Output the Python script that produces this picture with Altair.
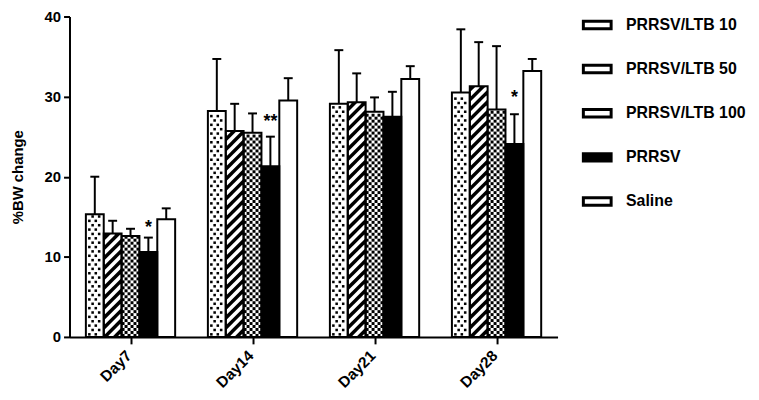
import altair as alt
import pandas as pd

# ---------------- data ----------------
days = ["Day7", "Day14", "Day21", "Day28"]
groups = ["PRRSV/LTB 10", "PRRSV/LTB 50", "PRRSV/LTB 100", "PRRSV", "Saline"]

mean_ltb10 = [15.3, 28.2, 29.1, 30.5]
mean_ltb50 = [12.9, 25.7, 29.3, 31.3]
mean_ltb100 = [12.6, 25.5, 28.1, 28.4]
mean_prrsv = [10.6, 21.3, 27.5, 24.1]
mean_saline = [14.7, 29.5, 32.2, 33.2]

sd_ltb10 = [4.7, 6.5, 6.7, 7.9]
sd_ltb50 = [1.6, 3.4, 3.6, 5.5]
sd_ltb100 = [0.9, 2.4, 1.8, 7.9]
sd_prrsv = [1.8, 3.7, 3.1, 3.7]
sd_saline = [1.35, 2.8, 1.6, 1.5]

sig_day = [0, 1, 3]          # index into days
sig_label = ["*", "**", "*"]
sig_y = [14.2, 27.5, 30.4]

group_fill = ["white", "black", "white", "black", "white"]
legend_fill = ["white", "white", "white", "black", "white"]

means = [mean_ltb10, mean_ltb50, mean_ltb100, mean_prrsv, mean_saline]
sds = [sd_ltb10, sd_ltb50, sd_ltb100, sd_prrsv, sd_saline]

# ---------------- layout ----------------
W, H = 492, 323
PPX = W / 4.0          # pixels per day unit
PPY = H / 40.0         # pixels per %BW unit
BW = 18.0 / PPX        # bar width in day units

rows = []
for g, name in enumerate(groups):
    for d, day in enumerate(days):
        xc = d + (g - 2) * BW
        m = means[g][d]
        rows.append(dict(day=day, group=name, gi=g, mean=m, top=m + sds[g][d],
                         xc=xc, x0=xc - BW / 2, x1=xc + BW / 2, zero=0.0))
bars = pd.DataFrame(rows)

# ---- texture marks (derived from bar values) ----
dots = []
for d, v in enumerate(mean_ltb10):
    xc = d + (0 - 2) * BW
    hp = v * PPY
    y, r = 2.6, 0
    while y < hp - 1.8:
        offs = [-5.5, 1.0] if r % 2 == 0 else [-2.2, 4.4]
        for o in offs:
            dots.append(dict(x=xc + o / PPX, y=y / PPY))
        y += 4.4
        r += 1
dots = pd.DataFrame(dots)

stripes = []
wpx = BW * PPX
for d, v in enumerate(mean_ltb50):
    left = d + (1 - 2) * BW - BW / 2
    hp = v * PPY
    c = -wpx + 2.0
    while c < hp:
        xs = max(0.0, -c)
        xe = min(wpx, hp - c)
        if xe - xs > 0.3:
            stripes.append(dict(sx=left + xs / PPX, sy=(xs + c) / PPY,
                                ex=left + xe / PPX, ey=(xe + c) / PPY))
        c += 10.0
stripes = pd.DataFrame(stripes)

checks = []
ncol = 6
cell = wpx / ncol
for d, v in enumerate(mean_ltb100):
    left = d + (2 - 2) * BW - BW / 2
    hp = v * PPY
    i = 0
    while (i + 1) * cell <= hp + 0.5:
        for j in range(ncol):
            if (i + j) % 2 == 0:
                checks.append(dict(x=left + (j + 0.5) * cell / PPX,
                                   y=(i + 0.5) * cell / PPY))
        i += 1
checks = pd.DataFrame(checks)

stars = pd.DataFrame(dict(
    x=[d + (3 - 2) * BW for d in sig_day], y=sig_y, label=sig_label))

FONT = "Liberation Sans"

xscale = alt.Scale(domain=[-0.5, 3.5], nice=False, zero=False)
yscale = alt.Scale(domain=[0, 40], nice=False, zero=True)

label_expr = "['Day7','Day14','Day21','Day28'][datum.value]"

x_axis = alt.Axis(values=[0, 1, 2, 3], labelExpr=label_expr, title=None,
                  grid=False, labelAngle=-45, labelAlign="right",
                  labelBaseline="middle", labelFontSize=15.5,
                  labelFontWeight="bold",
                  labelColor="black", tickSize=7, tickWidth=2, tickColor="black",
                  domainColor="black", domainWidth=2, labelPadding=9,
                  labelOffset=-2, labelFont=FONT)
y_axis = alt.Axis(values=[0, 10, 20, 30, 40], title="%BW change", grid=False,
                  labelFontSize=15, labelFontWeight="bold", labelColor="black",
                  tickSize=6, tickWidth=2, tickColor="black", domainColor="black",
                  domainWidth=2, labelPadding=3, titleFontSize=15,
                  titleFontWeight="bold", titleColor="black", titlePadding=19,
                  labelFont=FONT, titleFont=FONT)


def X(field):
    return alt.X(field, scale=xscale, axis=x_axis, title=None)


def Y(field):
    return alt.Y(field, scale=yscale, axis=y_axis, title="%BW change")


base_fill = alt.Chart(bars).mark_rect(strokeWidth=0).encode(
    x=X("x0:Q"), x2="x1:Q", y=Y("zero:Q"), y2="mean:Q",
    fill=alt.Fill("group:N", scale=alt.Scale(domain=groups, range=group_fill),
                  legend=None),
)

dot_layer = alt.Chart(dots).mark_square(size=6.5, color="black", opacity=1).encode(
    x=X("x:Q"), y=Y("y:Q"))

stripe_layer = alt.Chart(stripes).mark_rule(color="white", strokeWidth=3.6).encode(
    x=X("sx:Q"), y=Y("sy:Q"), x2="ex:Q", y2="ey:Q")

check_layer = alt.Chart(checks).mark_square(size=cell * cell, color="black",
                                            opacity=1).encode(
    x=X("x:Q"), y=Y("y:Q"))

outline = alt.Chart(bars).mark_rect(fillOpacity=0, stroke="black",
                                    strokeWidth=2).encode(
    x=X("x0:Q"), x2="x1:Q", y=Y("zero:Q"), y2="mean:Q")

err = alt.Chart(bars).mark_rule(color="black", strokeWidth=2).encode(
    x=X("xc:Q"), y=Y("mean:Q"), y2="top:Q")

cap = alt.Chart(bars).mark_tick(orient="horizontal", size=9, thickness=2,
                                color="black", opacity=1).encode(
    x=X("xc:Q"), y=Y("top:Q"))

star_layer = alt.Chart(stars).mark_text(fontSize=18, fontWeight="bold",
                                        color="black", baseline="alphabetic",
                                        dy=10, font=FONT).encode(
    x=X("x:Q"), y=Y("y:Q"), text="label:N")

main = alt.layer(base_fill, dot_layer, stripe_layer, check_layer, outline,
                 err, cap, star_layer).properties(width=W, height=H)

# ---------------- legend panel ----------------
leg = pd.DataFrame(dict(group=groups, idx=list(range(len(groups))),
                        fill=legend_fill))
leg["y0"] = leg["idx"] - 0.085
leg["y1"] = leg["idx"] + 0.085
lscale = alt.Scale(domain=[0, 4], range=[8.5, 186.5])

leg_rect = alt.Chart(leg).mark_rect(stroke="black", strokeWidth=3).encode(
    x=alt.value(4), x2=alt.value(32),
    y=alt.Y("y0:Q", scale=lscale, axis=None), y2="y1:Q",
    fill=alt.Fill("fill:N", scale=None),
)
leg_text = alt.Chart(leg).mark_text(align="left", baseline="middle",
                                    fontSize=16, fontWeight="bold",
                                    color="black", font=FONT).encode(
    x=alt.value(47), y=alt.Y("idx:Q", scale=lscale, axis=None), text="group:N")

legend = alt.layer(leg_rect, leg_text).properties(width=140, height=H)

chart = alt.hconcat(main, legend, spacing=22, bounds="flush").properties(
    padding={"left": 2, "top": 0, "right": 5, "bottom": 5}
).configure(font=FONT).configure_view(stroke=None)

chart.save("out.html", embed_options={"renderer": "svg", "actions": False})
